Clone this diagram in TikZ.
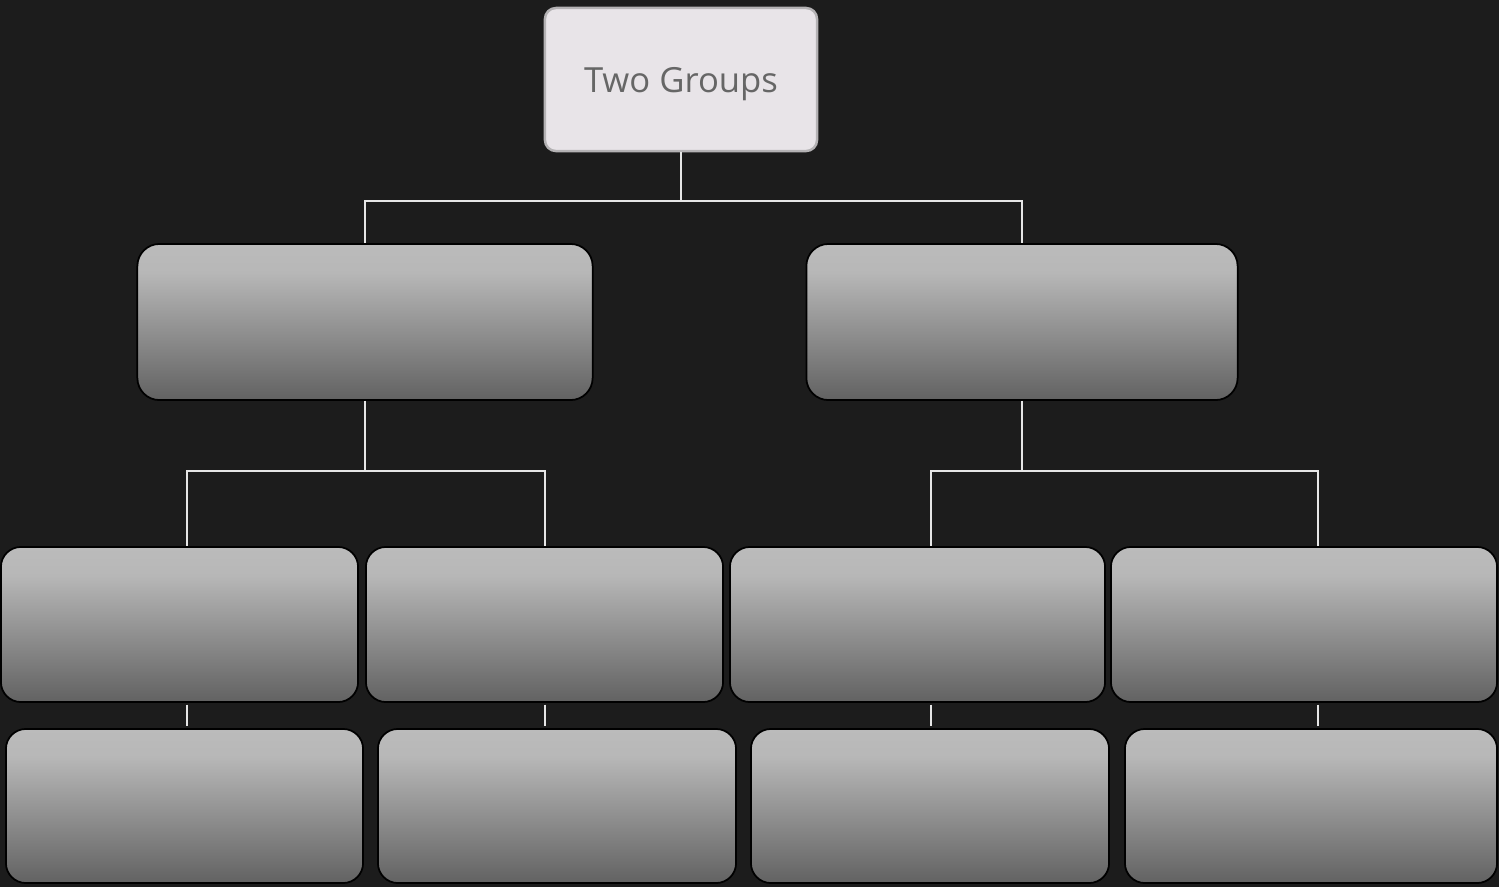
\documentclass[tikz,border=0pt]{standalone}
\usepackage{fontspec}
\setmainfont{Open Sans}
\usepackage{tikz}
\usetikzlibrary{positioning,calc}

\definecolor{bgdark}{HTML}{1C1C1C}
\definecolor{rootfill}{HTML}{E8E4E8}
\definecolor{rootline}{HTML}{B4B2B4}
\definecolor{roottext}{HTML}{666666}
\definecolor{linkline}{HTML}{E6E6E6}
\definecolor{shadetop}{HTML}{BBBBBB}
\definecolor{shademid}{HTML}{969696}
\definecolor{shadebot}{HTML}{626262}
\pgfdeclareverticalshading{greybox}{100bp}{color(0bp)=(shadebot); color(25bp)=(shadebot); color(50bp)=(shademid); color(66bp)=(shadetop!90!shademid); color(75bp)=(shadetop); color(100bp)=(shadetop)}

\begin{document}
\begin{tikzpicture}[x=0.01cm, y=-0.01cm,
    root/.style={draw=rootline, line width=0.7pt, fill=rootfill, rounded corners=0.11cm,
        minimum width=2.72cm, minimum height=1.43cm, inner sep=0pt, text=roottext,
        text depth=0pt, font=\fontsize{9.85}{11}\selectfont},
    groupbox/.style={draw=black, line width=0.5pt, shade, shading=greybox, rounded corners=0.22cm,
        minimum height=1.56cm, inner sep=0pt},
    subbox/.style={draw=black, line width=0.5pt, shade, shading=greybox, rounded corners=0.2cm,
        minimum height=1.55cm, inner sep=0pt},
    link/.style={draw=linkline, line width=0.6pt}]

    % Background
    \fill[bgdark] (0,0) rectangle (1499,887);

    % Root
    \node[root] (root) at (681,79.5) {Two Groups};

    % Two groups
    \node[groupbox, minimum width=4.55cm] (grpA) at (365,322) {};
    \node[groupbox, minimum width=4.31cm] (grpB) at (1022,322) {};

    % Second row
    \node[subbox, minimum width=3.57cm] (subA1) at (179.5,624.5) {};
    \node[subbox, minimum width=3.57cm] (subA2) at (544.5,624.5) {};
    \node[subbox, minimum width=3.75cm] (subB1) at (917.5,624.5) {};
    \node[subbox, minimum width=3.86cm] (subB2) at (1304,624.5) {};

    % Third row
    \node[subbox, minimum width=3.57cm, minimum height=1.54cm] (leafA1) at (184.5,806) {};
    \node[subbox, minimum width=3.58cm, minimum height=1.54cm] (leafA2) at (557,806) {};
    \node[subbox, minimum width=3.58cm, minimum height=1.54cm] (leafB1) at (930,806) {};
    \node[subbox, minimum width=3.72cm, minimum height=1.54cm] (leafB2) at (1311,806) {};

    % Connectors
    \coordinate (dropA1) at (187,471);
    \coordinate (dropA2) at (545,471);
    \coordinate (dropB1) at (931,471);
    \coordinate (dropB2) at (1318,471);

    \draw[link] (root.south) -- ++(0,49) -| (grpA.north);
    \draw[link] (root.south) -- ++(0,49) -| (grpB.north);

    \draw[link] (grpA.south) |- (dropA1) -- (dropA1 |- subA1.north);
    \draw[link] (grpA.south) |- (dropA2) -- (dropA2 |- subA2.north);
    \draw[link] (grpB.south) |- (dropB1) -- (dropB1 |- subB1.north);
    \draw[link] (grpB.south) |- (dropB2) -- (dropB2 |- subB2.north);

    \draw[link] ([yshift=-0.5pt]dropA1 |- subA1.south) -- ([yshift=0.5pt]dropA1 |- leafA1.north);
    \draw[link] ([yshift=-0.5pt]dropA2 |- subA2.south) -- ([yshift=0.5pt]dropA2 |- leafA2.north);
    \draw[link] ([yshift=-0.5pt]dropB1 |- subB1.south) -- ([yshift=0.5pt]dropB1 |- leafB1.north);
    \draw[link] ([yshift=-0.5pt]dropB2 |- subB2.south) -- ([yshift=0.5pt]dropB2 |- leafB2.north);
\end{tikzpicture}
\end{document}
